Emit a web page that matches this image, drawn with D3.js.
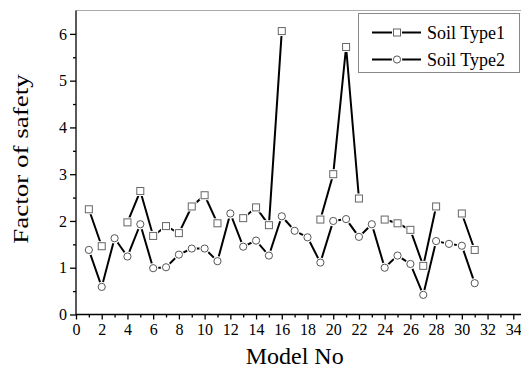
<!DOCTYPE html>
<html>
<head>
<meta charset="utf-8">
<script src="https://cdn.jsdelivr.net/npm/d3@7/dist/d3.min.js"></script>
<style>
  html, body { margin: 0; padding: 0; background: #fff; }
  svg { display: block; font-family: "Liberation Serif", "Times New Roman", serif; }
</style>
</head>
<body>
<svg id="chart" width="521" height="374"></svg>
<script>
// Model numbers 1..31
const models = d3.range(1, 32);
// Factor of safety per model; null = no result for that model
const soilType1 = [2.25, 1.46, null, 1.97, 2.64, 1.68, 1.89, 1.74, 2.31, 2.55,
                   1.95, null, 2.06, 2.29, 1.91, 6.06, null, null, 2.03, 3.00,
                   5.72, 2.48, null, 2.03, 1.95, 1.81, 1.04, 2.31, null, 2.16, 1.38];
const soilType2 = [1.38, 0.59, 1.63, 1.24, 1.93, 0.99, 1.01, 1.28, 1.41, 1.41,
                   1.14, 2.16, 1.45, 1.58, 1.26, 2.10, 1.79, 1.65, 1.11, 2.00,
                   2.04, 1.66, 1.93, 1.00, 1.26, 1.08, 0.42, 1.57, 1.51, 1.47, 0.67];
const seriesNames = ["Soil Type1", "Soil Type2"];
const xTicks = d3.range(0, 35, 2);
const yTicks = d3.range(0, 7, 1);

const svg = d3.select("#chart");
const x = d3.scaleLinear().domain([0, 34.6]).range([76, 521]);
const y = d3.scaleLinear().domain([0, 6.5]).range([314.5, 10.5]);

// top frame line (light)
svg.append("line")
  .attr("x1", 76).attr("x2", 521).attr("y1", 10.5).attr("y2", 10.5)
  .attr("stroke", "#aaa").attr("stroke-width", 1);

// x axis
const gx = svg.append("g").attr("transform", `translate(0,${y(0)})`);
gx.call(d3.axisBottom(x).tickValues(d3.range(1, 35, 2)).tickSize(3).tickFormat(""));
gx.call(g => g.append("g").call(d3.axisBottom(x).tickValues(xTicks).tickSize(5).tickPadding(4).tickFormat(d3.format("d"))));
gx.selectAll(".domain").remove();
gx.append("line").attr("x1", 76).attr("x2", 521).attr("stroke", "#000").attr("stroke-width", 1.5);
gx.selectAll("line").attr("stroke", "#000").attr("stroke-width", 1.3);
gx.selectAll("text").attr("font-size", 16).attr("fill", "#000")
  .attr("font-family", "Liberation Serif, serif");

// y axis
const gy = svg.append("g").attr("transform", `translate(${x(0)},0)`);
gy.call(d3.axisLeft(y).tickValues(d3.range(0.5, 6.5, 1)).tickSize(3).tickFormat(""));
gy.call(g => g.append("g").call(d3.axisLeft(y).tickValues(yTicks).tickSize(6).tickPadding(3).tickFormat(d3.format("d"))));
gy.selectAll(".domain").remove();
gy.append("line").attr("y1", y(0) + 0.5).attr("y2", y(6.5)).attr("stroke", "#000").attr("stroke-width", 1.5);
gy.selectAll("line").attr("stroke", "#000").attr("stroke-width", 1.3);
gy.selectAll("text").attr("font-size", 16).attr("fill", "#000")
  .attr("font-family", "Liberation Serif, serif");

// axis titles
svg.append("text")
  .attr("x", x(17)).attr("y", 364)
  .attr("text-anchor", "middle").attr("font-size", 24)
  .text("Model No");
svg.append("text")
  .attr("transform", "translate(28,159) rotate(-90) scale(1,0.75)")
  .attr("text-anchor", "middle").attr("font-size", 27)
  .text("Factor of safety");

// series lines
const line = d3.line()
  .defined(d => d.v !== null)
  .x(d => x(d.m)).y(d => y(d.v));

const series = [soilType1, soilType2].map((vals, i) => ({
  name: seriesNames[i],
  shape: i === 0 ? "square" : "circle",
  pts: models.map((m, j) => ({ m, v: vals[j] }))
}));

series.forEach(s => {
  svg.append("path")
    .datum(s.pts)
    .attr("fill", "none").attr("stroke", "#000").attr("stroke-width", 2)
    .attr("d", line);
});

function drawMarker(g, shape, cx, cy) {
  if (shape === "square") {
    g.append("rect").attr("x", cx - 5).attr("y", cy - 5).attr("width", 10).attr("height", 10)
      .attr("fill", "#fff");
    g.append("rect").attr("x", cx - 3.5).attr("y", cy - 3.5).attr("width", 7).attr("height", 7)
      .attr("fill", "#fff").attr("stroke", "#666").attr("stroke-width", 1);
  } else {
    g.append("circle").attr("cx", cx).attr("cy", cy).attr("r", 5.2).attr("fill", "#fff");
    g.append("circle").attr("cx", cx).attr("cy", cy).attr("r", 3.6)
      .attr("fill", "#fff").attr("stroke", "#555").attr("stroke-width", 1);
  }
}

series.forEach(s => {
  const g = svg.append("g");
  s.pts.filter(d => d.v !== null).forEach(d => drawMarker(g, s.shape, x(d.m), y(d.v)));
});

// legend
const lg = svg.append("g");
lg.append("rect").attr("x", 358.5).attr("y", 13.5).attr("width", 161).attr("height", 59)
  .attr("fill", "#fff").attr("stroke", "#888").attr("stroke-width", 1);
series.forEach((s, i) => {
  const ly = 32.5 + i * 27;
  lg.append("line").attr("x1", 372).attr("x2", 421).attr("y1", ly).attr("y2", ly)
    .attr("stroke", "#000").attr("stroke-width", 2);
  drawMarker(lg, s.shape, 397, ly);
  lg.append("text").attr("x", 427).attr("y", ly + 6).attr("font-size", 18).text(s.name);
});
</script>
</body>
</html>
